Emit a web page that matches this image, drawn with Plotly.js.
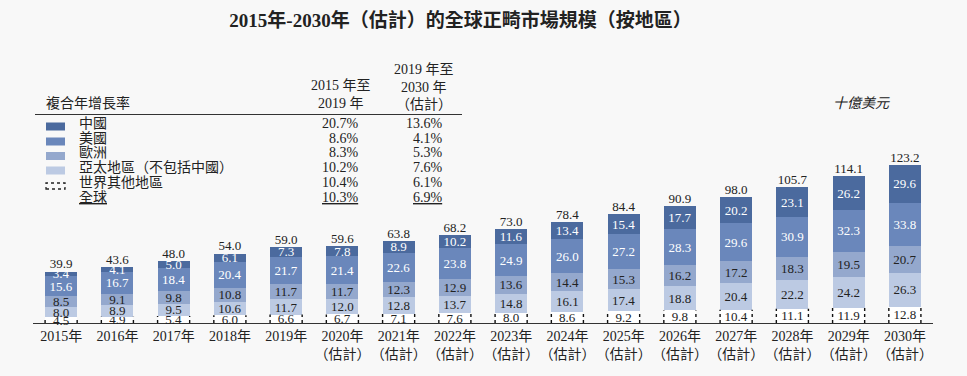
<!DOCTYPE html>
<html>
<head>
<meta charset="utf-8">
<script src="https://cdn.plot.ly/plotly-3.0.1.min.js"></script>
<style>html,body{margin:0;padding:0;background:#f8f8f8;}#chart{width:967px;height:376px;}</style>
</head>
<body>
<div id="chart"></div>
<script>
// ---- data ----
const years = ['2015年','2016年','2017年','2018年','2019年','2020年','2021年','2022年','2023年','2024年','2025年','2026年','2027年','2028年','2029年','2030年'];
const estimated = [false,false,false,false,false,true,true,true,true,true,true,true,true,true,true,true];
const china  = [3.4, 4.1, 5.0, 6.1, 7.3, 7.8, 8.9, 10.2, 11.6, 13.4, 15.4, 17.7, 20.2, 23.1, 26.2, 29.6];
const us     = [15.6, 16.7, 18.4, 20.4, 21.7, 21.4, 22.6, 23.8, 24.9, 26.0, 27.2, 28.3, 29.6, 30.9, 32.3, 33.8];
const europe = [8.5, 9.1, 9.8, 10.8, 11.7, 11.7, 12.3, 12.9, 13.6, 14.4, 15.3, 16.2, 17.2, 18.3, 19.5, 20.7];
const apac   = [8.0, 8.9, 9.5, 10.6, 11.7, 12.0, 12.8, 13.7, 14.8, 16.1, 17.4, 18.8, 20.4, 22.2, 24.2, 26.3];
const row    = [4.5, 4.9, 5.4, 6.0, 6.6, 6.7, 7.1, 7.6, 8.0, 8.6, 9.2, 9.8, 10.4, 11.1, 11.9, 12.8];
const totals = [39.9, 43.6, 48.0, 54.0, 59.0, 59.6, 63.8, 68.2, 73.0, 78.4, 84.4, 90.9, 98.0, 105.7, 114.1, 123.2];

const legendNames = ['中國','美國','歐洲','亞太地區（不包括中國）','世界其他地區','全球'];
const cagr1519 = ['20.7%','8.6%','8.3%','10.2%','10.4%','10.3%'];
const cagr1930 = ['13.6%','4.1%','5.3%','7.6%','6.1%','6.9%'];

// ---- style ----
const FONT = '"Liberation Serif", "Noto Sans CJK TC", serif';
const colors = {china:'#4b6a9e', us:'#6a87bb', europe:'#94a8cd', apac:'#bccae3', row:'#ffffff'};
const W = 967, H = 376, ML = 33, MR = 34, MT = 156, MB = 53;
const PW = W - ML - MR, PH = H - MT - MB;
const X = px => (px - ML) / PW;
const Y = py => (H - MB - py) / PH;

const xs = years.map((_, i) => i);
const tickText = years.map((y, i) => estimated[i] ? y + '<br>（估計）' : y);
const BW = 0.57;

function barTrace(vals, color, txtColor, name) {
  return {
    type: 'bar', x: xs, y: vals, name: name, width: BW,
    marker: {color: color, line: {width: 0}},
    text: vals.map(v => v.toFixed(1)), texttemplate: '%{text}',
    textposition: 'inside', insidetextanchor: 'middle', textangle: 0,
    constraintext: 'none', cliponaxis: false,
    textfont: {family: FONT, size: 13, color: txtColor},
    hoverinfo: 'skip', showlegend: false
  };
}

const traces = [
  barTrace(row, colors.row, '#222', '世界其他地區'),
  barTrace(apac, colors.apac, '#222', '亞太地區'),
  barTrace(europe, colors.europe, '#222', '歐洲'),
  barTrace(us, colors.us, '#ffffff', '美國'),
  barTrace(china, colors.china, '#ffffff', '中國'),
];

// dotted outline for rest-of-world segments
const dx = [], dy = [];
xs.forEach((x, i) => {
  dx.push(x - BW/2, x - BW/2, null, x + BW/2, x + BW/2, null);
  dy.push(0, row[i], null, 0, row[i], null);
});
traces.push({type:'scatter', mode:'lines', x: dx, y: dy, line:{color:'#111', width:1.4, dash:'dot'}, hoverinfo:'skip', showlegend:false, cliponaxis:false});

// totals
traces.push({
  type:'scatter', mode:'text', x: xs, y: totals, text: totals.map(v => v.toFixed(1)),
  textposition:'top center', textfont:{family: FONT, size: 13, color:'#222'},
  hoverinfo:'skip', showlegend:false, cliponaxis:false
});

// ---- legend table ----
const ann = [];
const shapes = [];
const tf = (s) => ({family: FONT, size: s || 14, color: '#222'});
function A(px, py, text, anchor, size, extra) {
  ann.push(Object.assign({xref:'paper', yref:'paper', x: X(px), y: Y(py), text: text, showarrow:false,
    xanchor: anchor, yanchor:'middle', font: tf(size)}, extra || {}));
}
A(44, 103, '複合年增長率', 'left');
A(341, 85, '2015 年至', 'center');
A(341, 103, '2019 年', 'center');
A(424, 69, '2019 年至', 'center');
A(424, 87, '2030 年', 'center');
A(424, 105, '（估計）', 'center');
shapes.push({type:'line', xref:'paper', yref:'paper', x0: X(35), x1: X(462), y0: Y(114.5), y1: Y(114.5), line:{color:'#333', width:1.2}});

const rowY = [123, 138, 152.5, 167, 182, 197];
const sw = [colors.china, colors.us, colors.europe, colors.apac];
legendNames.forEach((n, i) => {
  const t = i === 5 ? '<u>' + n + '</u>' : n;
  A(77, rowY[i], t, 'left');
  A(361, rowY[i], i === 5 ? '<u>' + cagr1519[i] + '</u>' : cagr1519[i], 'right');
  A(445, rowY[i], i === 5 ? '<u>' + cagr1930[i] + '</u>' : cagr1930[i], 'right');
  if (i < 4) {
    shapes.push({type:'rect', xref:'paper', yref:'paper', x0: X(46), x1: X(65), y0: Y(rowY[i] + 7.5), y1: Y(rowY[i] - 0.5), fillcolor: sw[i], line:{width:0}});
  } else if (i === 4) {
    shapes.push({type:'rect', xref:'paper', yref:'paper', x0: X(46), x1: X(65), y0: Y(rowY[i] + 7), y1: Y(rowY[i] + 1), fillcolor: 'rgba(0,0,0,0)', line:{width:1.3, color:'#222', dash:'dot'}});
  }
});

A(861, 103, '<i>十億美元</i>', 'center', 14);

const layout = {
  width: W, height: H,
  margin: {l: ML, r: MR, t: MT, b: MB, pad: 0},
  paper_bgcolor: '#f8f8f8', plot_bgcolor: '#f8f8f8',
  barmode: 'stack', bargap: 0.43,
  title: {text: '<b>2015年-2030年（估計）的全球正畸市場規模（按地區）</b>', font: {family: '"Liberation Serif", "Noto Sans CJK TC", serif', size: 19, color: '#222'}, x: 0.475, xanchor: 'center', y: 0.947, yanchor: 'middle', xref: 'paper', yref: 'container'},
  xaxis: {range: [-0.5, 15.5], tickmode: 'array', tickvals: xs, ticktext: tickText, tickangle: 0, automargin: false,
          showline: true, linecolor: '#333', linewidth: 1.2,
          layer: 'below traces', showgrid: false, zeroline: false, ticks: '', tickfont: {family: FONT, size: 14, color: '#222'}, fixedrange: true},
  yaxis: {range: [0, 130], visible: false, showgrid: false, zeroline: false, fixedrange: true},
  annotations: ann, shapes: shapes,
  showlegend: false
};

Plotly.newPlot('chart', traces, layout, {displayModeBar: false, staticPlot: true});
</script>
</body>
</html>
